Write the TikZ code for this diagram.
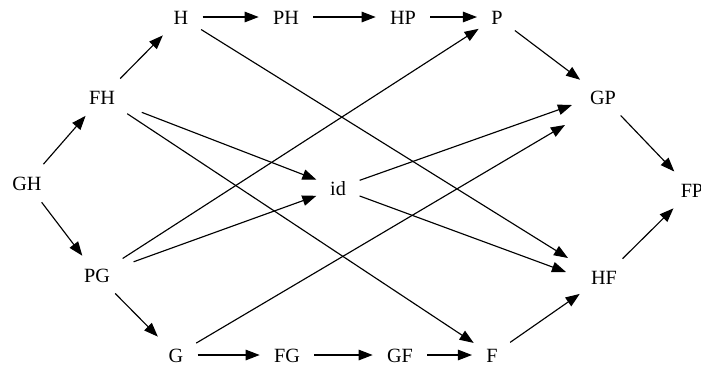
\documentclass[tikz,border=0pt]{standalone}
\usepackage{fontspec}
\setmainfont{Liberation Serif}
\usetikzlibrary{arrows.meta}

\begin{document}
\begin{tikzpicture}[x=0.02cm, y=-0.02cm,
    lbl/.style={inner sep=2pt, text height=8pt, text depth=0pt, font=\fontsize{11.5}{13}\selectfont},
    arr/.style={-{Triangle[length=8pt,width=6pt]}, line width=0.65pt, shorten <=6pt, shorten >=6pt}]
  \useasboundingbox (0,0) rectangle (701,370);
  % upper row
  \node[lbl] (GH) at (27,183) {GH};
  \node[lbl] (FH) at (102,97) {FH};
  \node[lbl] (H) at (181,17) {H};
  \node[lbl] (PH) at (286,17) {PH};
  \node[lbl] (HP) at (403,17) {HP};
  \node[lbl] (P) at (497,17) {P};
  \node[lbl] (GP) at (603,97) {GP};
  \node[lbl] (FP) at (692,190) {FP};
  % middle
  \node[lbl] (id) at (338,188) {id};
  % lower row
  \node[lbl] (PG) at (97,275) {PG};
  \node[lbl] (G) at (176,355) {G};
  \node[lbl] (FG) at (287,355) {FG};
  \node[lbl] (GF) at (400,355) {GF};
  \node[lbl] (F) at (492,355) {F};
  \node[lbl] (HF) at (604,277) {HF};
  % where the crossing arrows come in
  \coordinate (GPa) at (572,105);
  \coordinate (GPb) at (565,125);
  \coordinate (HFa) at (568,258);
  \coordinate (HFb) at (566,272);
  % the hexagon
  \foreach \a/\b in {GH/FH, FH/H, H/PH, PH/HP, HP/P, P/GP, GP/FP,
                     GH/PG, PG/G, G/FG, FG/GF, GF/F, F/HF, HF/FP}{
      \draw[arr] (\a) -- (\b);
  }
  % crossing arrows
  \draw[arr] (FH) -- (F);
  \draw[arr, shorten <=14pt] (FH) -- (id);
  \draw[arr] (PG) -- (P);
  \draw[arr, shorten <=12pt] (PG) -- (id);
  \draw[arr, shorten >=0pt] (H) -- (HFa);
  \draw[arr, shorten >=0pt] (id) -- (HFb);
  \draw[arr, shorten >=0pt] (id) -- (GPa);
  \draw[arr, shorten >=0pt] (G) -- (GPb);
\end{tikzpicture}
\end{document}
